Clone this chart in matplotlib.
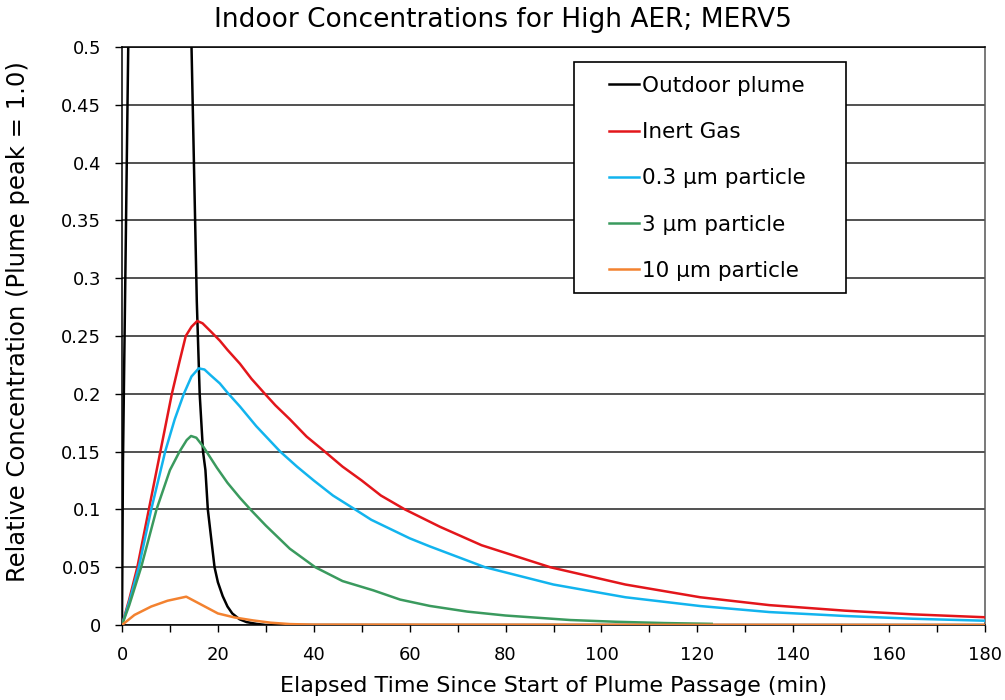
import matplotlib
matplotlib.use("Agg")
import matplotlib.pyplot as plt
from matplotlib.patches import Rectangle
from matplotlib.ticker import MultipleLocator, FuncFormatter

# values (time in min, concentration relative to plume peak)
t_plume = [0, 0.2, 0.6, 1.3, 2.8, 12.0, 14.5, 15.6, 16.2, 16.9, 17.4, 17.9, 19.3,
           20.0, 21.0, 22.0, 23.0, 24.5, 26.0, 28.0, 30.0, 180]
c_plume = [0, 0.14, 0.27, 0.5, 1.0, 1.0, 0.5, 0.28, 0.2, 0.15, 0.134, 0.1, 0.05,
           0.037, 0.025, 0.016, 0.010, 0.005, 0.0025, 0.001, 0, 0]

t_gas = [0, 1.5, 3.2, 5.6, 8.0, 10.4, 12.0, 13.3, 14.5, 15.7, 16.8, 18.5, 20.4, 22,
         24.6, 27, 29.8, 32, 35, 38.5, 42.3, 46, 50, 54, 59, 66.3, 75, 89.3, 105,
         120.6, 135, 150.8, 165, 180]
c_gas = [0, 0.022, 0.05, 0.1, 0.15, 0.2, 0.228, 0.25, 0.258, 0.263, 0.261, 0.254, 0.246,
         0.238, 0.226, 0.213, 0.2, 0.19, 0.178, 0.163, 0.15, 0.137, 0.125, 0.112, 0.1,
         0.085, 0.069, 0.05, 0.035, 0.024, 0.0172, 0.0124, 0.0092, 0.0067]

t_p03 = [0, 1.5, 3.5, 6.1, 8.6, 9.0, 11.0, 12.9, 14.5, 16.0, 17.2, 18.5, 20.4, 22,
         24.6, 26, 28, 30.5, 33, 36.5, 40, 44, 48.6, 52, 56, 60, 64.2, 75.7, 90, 105,
         120.6, 135, 150.8, 165, 180]
c_p03 = [0, 0.02, 0.05, 0.1, 0.143, 0.15, 0.178, 0.2, 0.215, 0.222, 0.221, 0.216, 0.209,
         0.201, 0.189, 0.182, 0.172, 0.161, 0.15, 0.137, 0.125, 0.112, 0.1, 0.091, 0.083,
         0.075, 0.068, 0.05, 0.035, 0.024, 0.0164, 0.0112, 0.0078, 0.0054, 0.0037]

t_p3 = [0, 1.5, 4.0, 7.2, 10.0, 12.0, 13.5, 14.4, 15.5, 17.0, 19.8, 22, 24.6, 27,
        30, 35, 40.3, 46, 52.4, 58, 64.2, 72, 80, 93.5, 103, 113, 123]
c_p3 = [0, 0.017, 0.05, 0.1, 0.134, 0.15, 0.16, 0.1635, 0.162, 0.154, 0.136, 0.123,
        0.110, 0.099, 0.086, 0.066, 0.05, 0.038, 0.03, 0.022, 0.0165, 0.0116, 0.0082,
        0.0043, 0.0028, 0.0017, 0.001]

t_p10 = [0, 2.6, 6.1, 9.5, 13.4, 16.5, 20.0, 23.5, 27.3, 31, 35, 40, 180]
c_p10 = [0, 0.0087, 0.016, 0.021, 0.0245, 0.0177, 0.010, 0.0065, 0.004, 0.002,
         0.0008, 0.0003, 0]

labels = ["Outdoor plume", "Inert Gas", "0.3 \u00b5m particle", "3 \u00b5m particle",
          "10 \u00b5m particle"]
colors = ["#000000", "#e3161b", "#12b4ee", "#3a9a5e", "#f38230"]

plt.rcParams["font.family"] = ["DejaVu Sans"]

fig = plt.figure(figsize=(10.05, 7.0), dpi=100)
ax = fig.add_axes([122 / 1005, 75 / 700, 863 / 1005, 578 / 700])

series = [(t_plume, c_plume), (t_gas, c_gas), (t_p03, c_p03), (t_p3, c_p3), (t_p10, c_p10)]
for (t, c), lab, col in zip(series, labels, colors):
    ax.plot(t, c, color=col, lw=1.8, label=lab, zorder=3)

ax.set_xlim(0, 180)
ax.set_ylim(0, 0.5)
ax.xaxis.set_major_locator(MultipleLocator(20))
ax.xaxis.set_minor_locator(MultipleLocator(10))
ax.yaxis.set_major_locator(MultipleLocator(0.05))
ax.yaxis.set_major_formatter(FuncFormatter(lambda v, p: "%g" % round(v, 2)))
ax.tick_params(axis="both", which="both", direction="out", length=5, width=1,
               labelsize=13)
ax.tick_params(axis="y", pad=10)
ax.tick_params(axis="x", which="both", pad=10)
ax.grid(axis="y", color="#222222", lw=1.1)
ax.set_axisbelow(True)
for s in ax.spines.values():
    s.set_linewidth(1.1)
ax.spines["right"].set_color("#555555")

fig.text(0.5, 0.971, "Indoor Concentrations for High AER; MERV5", fontsize=19,
         ha="center", va="center")
ax.set_xlabel("Elapsed Time Since Start of Plume Passage (min)", fontsize=16)
ax.xaxis.set_label_coords(0.5, -0.088)
ax.set_ylabel("Relative Concentration (Plume peak = 1.0)", fontsize=17.5)
ax.yaxis.set_label_coords(-0.107, 0.525)

# legend box drawn as a plain rectangle, legend entries placed inside it
box = Rectangle((0.5237, 0.5744), 0.3152, 0.3996, transform=ax.transAxes,
                facecolor="white", edgecolor="black", lw=1.2, zorder=4)
ax.add_patch(box)
leg = ax.legend(loc="upper left", bbox_to_anchor=(0.5643, 0.95), frameon=False,
                fontsize=15.5, labelspacing=1.22, handlelength=1.4, handletextpad=0.15,
                borderpad=0, borderaxespad=0)
leg.set_zorder(5)

fig.savefig("out.png", dpi=100)
